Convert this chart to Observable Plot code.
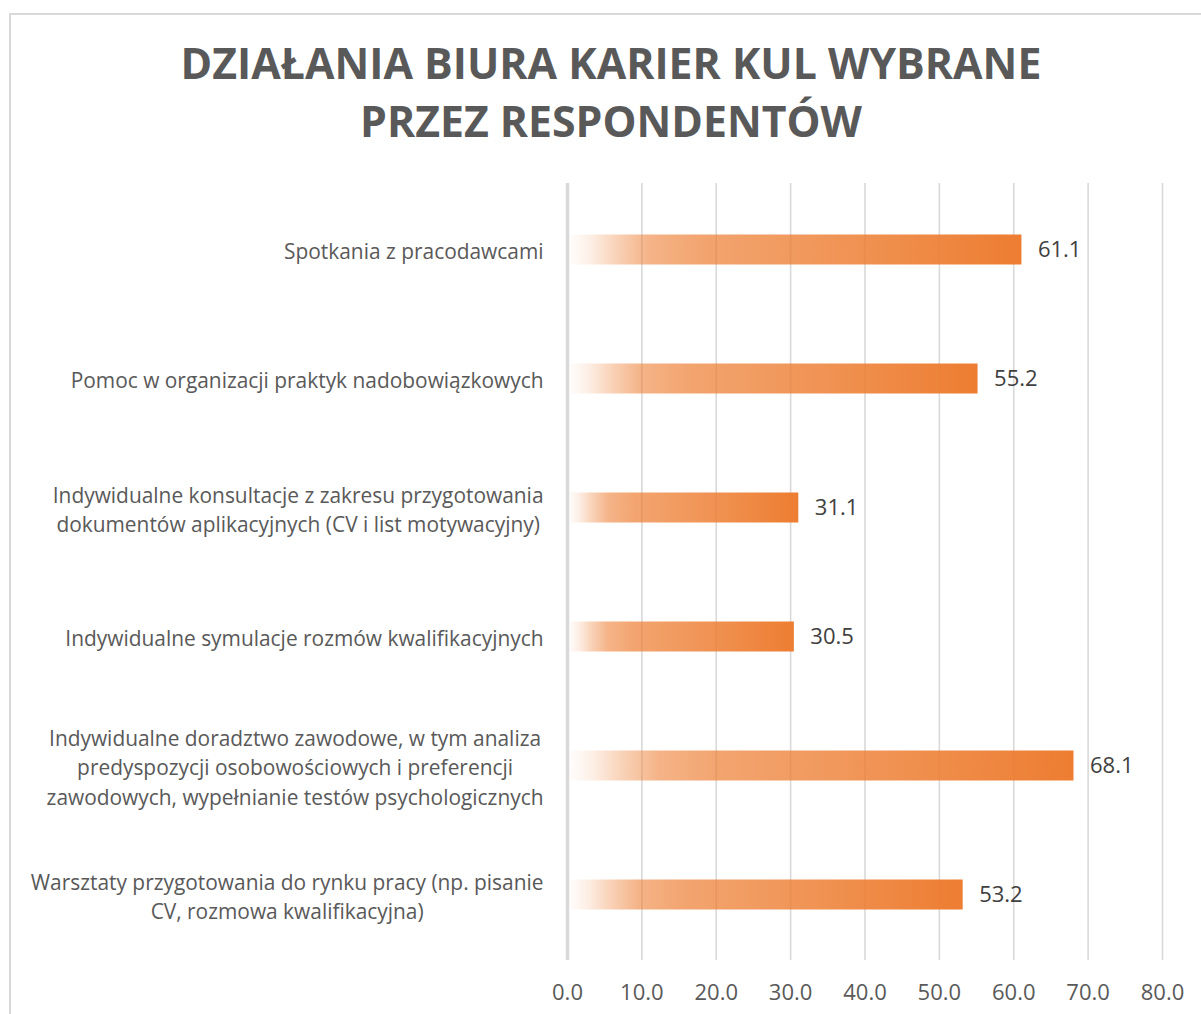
<!DOCTYPE html>
<html>
<head>
<meta charset="utf-8">
<script src="https://cdn.jsdelivr.net/npm/d3@7"></script>
<script src="https://cdn.jsdelivr.net/npm/@observablehq/plot@0.6"></script>
<style>
  html, body { margin: 0; padding: 0; background: #fff; }
  #wrap { position: relative; width: 1201px; height: 1014px; overflow: hidden; }
  #frame { position: absolute; left: 9px; top: 13px; width: 1300px; height: 1100px;
           border-top: 2px solid #d9d9d9; border-left: 2px solid #d9d9d9; box-sizing: border-box; }
  #title { position: relative; width: 1222px; height: 160px; text-align: center;
           font-family: "Open Sans", sans-serif; font-weight: 700; font-size: 42.8px;
           line-height: 58px; color: #595959; padding-top: 34px; box-sizing: border-box; }
  #chart { position: relative; }
</style>
</head>
<body>
<div id="wrap">
  <div id="frame"></div>
  <div id="title">DZIAŁANIA BIURA KARIER KUL WYBRANE<br>PRZEZ RESPONDENTÓW</div>
  <div id="chart"></div>
</div>
<script>
const categories = [
  "Spotkania z pracodawcami",
  "Pomoc w organizacji praktyk nadobowiązkowych",
  "Indywidualne konsultacje z zakresu przygotowania\ndokumentów aplikacyjnych (CV i list motywacyjny)",
  "Indywidualne symulacje rozmów kwalifikacyjnych",
  "Indywidualne doradztwo zawodowe, w tym analiza\npredyspozycji osobowościowych i preferencji\nzawodowych, wypełnianie testów psychologicznych",
  "Warsztaty przygotowania do rynku pracy (np. pisanie\nCV, rozmowa kwalifikacyjna)"
];
const values = [61.1, 55.2, 31.1, 30.5, 68.1, 53.2];
const xTicks = [0, 10, 20, 30, 40, 50, 60, 70, 80];

const data = categories.map((c, i) => ({category: c, value: values[i]}));

const FONT = "Open Sans, sans-serif";
const LABEL_SIZE = 20.9;
const NUM_SIZE = 22;
const canvas = document.createElement("canvas");
const ctx = canvas.getContext("2d");
ctx.font = `${LABEL_SIZE}px "Open Sans"`;
const blockWidth = c => Math.max(...c.split("\n").map(l => ctx.measureText(l).width));

const labelMarks = categories.map(c =>
  Plot.text([c], {
    x: () => 0, y: d => d, text: d => d,
    textAnchor: "middle", lineAnchor: "middle", lineHeight: 1.4,
    dx: -24 - blockWidth(c) / 2,
    fill: "#595959", fontSize: LABEL_SIZE
  })
);

const chart = Plot.plot({
  width: 1201,
  height: 854,
  marginTop: 23,
  marginBottom: 54,
  marginLeft: 567,
  marginRight: 39,
  style: {fontFamily: FONT, fontSize: "22px", color: "#595959", background: "transparent", overflow: "visible"},
  x: {domain: [0, 80], ticks: xTicks, tickFormat: d => d.toFixed(1), label: null},
  y: {domain: categories, padding: 0, axis: null},
  marks: [
    Plot.ruleX(xTicks.filter(t => t !== 0), {stroke: "#d9d9d9", strokeWidth: 1.6}),
    Plot.axisX({ticks: xTicks, tickSize: 0, tickPadding: 24, tickFormat: d => d.toFixed(1), fill: "#595959", fontSize: NUM_SIZE, label: null}),
    Plot.barX(data, {x: "value", y: "category", fill: "url(#barGrad)", insetTop: 49.5, insetBottom: 49.5}),
    Plot.ruleX([0], {stroke: "#d9d9d9", strokeWidth: 3.5}),
    Plot.text(data, {x: "value", y: "category", text: d => d.value.toFixed(1), textAnchor: "start", dx: 16, fill: "#404040", fontSize: NUM_SIZE}),
    ...labelMarks
  ]
});

const ns = "http://www.w3.org/2000/svg";
const defs = document.createElementNS(ns, "defs");
const grad = document.createElementNS(ns, "linearGradient");
grad.setAttribute("id", "barGrad");
grad.setAttribute("x1", "0"); grad.setAttribute("x2", "1");
grad.setAttribute("y1", "0"); grad.setAttribute("y2", "0");
[[0, 0], [0.05, 0.12], [0.11, 0.35], [0.18, 0.58], [0.3, 0.7], [0.6, 0.82], [1, 1]].forEach(([o, a]) => {
  const s = document.createElementNS(ns, "stop");
  s.setAttribute("offset", o);
  s.setAttribute("stop-color", "#ED7D31");
  s.setAttribute("stop-opacity", a);
  grad.appendChild(s);
});
defs.appendChild(grad);
chart.insertBefore(defs, chart.firstChild);

document.getElementById("chart").appendChild(chart);
</script>
</body>
</html>
